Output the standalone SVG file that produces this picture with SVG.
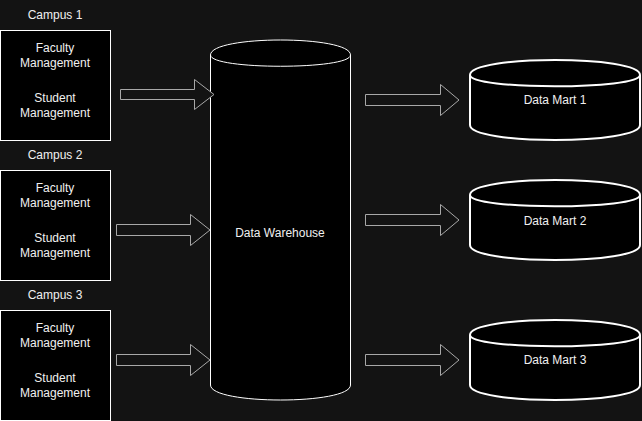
<svg xmlns="http://www.w3.org/2000/svg" width="642" height="421" viewBox="0 0 642 421">
<defs>
<style>
text{font-family:"Liberation Sans",Arial,sans-serif;font-size:12px;fill:#f0f0f0;text-anchor:middle}
.box{fill:#000;stroke:#fff;stroke-width:1}
.dw{fill:#000;stroke:#fff;stroke-width:1}
.dm{fill:#000;stroke:#fff;stroke-width:2}
.inner{fill:none}
.arrow{fill:#131313;stroke:#a8a8a8;stroke-width:1;stroke-linejoin:miter}
</style>
</defs>
<rect width="642" height="421" fill="#131313"/>
<g id="campus1">
<text x="55" y="19">Campus 1</text>
<rect class="box" x="0.5" y="30.5" width="110" height="110"/>
<text x="55" y="51.5">Faculty</text>
<text x="55" y="66.5">Management</text>
<text x="55" y="101.5">Student</text>
<text x="55" y="116.5">Management</text>
</g>
<g id="campus2">
<text x="55" y="159">Campus 2</text>
<rect class="box" x="0.5" y="170.5" width="110" height="110"/>
<text x="55" y="191.5">Faculty</text>
<text x="55" y="206.5">Management</text>
<text x="55" y="241.5">Student</text>
<text x="55" y="256.5">Management</text>
</g>
<g id="campus3">
<text x="55" y="299">Campus 3</text>
<rect class="box" x="0.5" y="310.5" width="110" height="110"/>
<text x="55" y="331.5">Faculty</text>
<text x="55" y="346.5">Management</text>
<text x="55" y="381.5">Student</text>
<text x="55" y="396.5">Management</text>
</g>
<g id="warehouse">
<path class="dw" d="M210.5,55 C210.5,35 350.5,35 350.5,55 L350.5,385 C350.5,405 210.5,405 210.5,385 Z"/>
<path class="dw inner" d="M210.5,55 C210.5,70 350.5,70 350.5,55"/>
<text x="280" y="236.5">Data Warehouse</text>
</g>
<g id="mart1">
<path class="dm" d="M470,75 C470,55 640,55 640,75 L640,125 C640,145 470,145 470,125 Z"/>
<path class="dm inner" d="M470,75 C470,90 640,90 640,75"/>
<text x="555" y="104">Data Mart 1</text>
</g>
<g id="mart2">
<path class="dm" d="M470,195 C470,175 640,175 640,195 L640,245 C640,265 470,265 470,245 Z"/>
<path class="dm inner" d="M470,195 C470,210 640,210 640,195"/>
<text x="555" y="224.5">Data Mart 2</text>
</g>
<g id="mart3">
<path class="dm" d="M470,335 C470,315 640,315 640,335 L640,385 C640,405 470,405 470,385 Z"/>
<path class="dm inner" d="M470,335 C470,350 640,350 640,335"/>
<text x="555" y="364">Data Mart 3</text>
</g>
<g id="connectors">
<polygon class="arrow" points="120.5,89.5 194.5,89.5 194.5,79.5 214,94.5 194.5,109.5 194.5,99.5 120.5,99.5"/>
<polygon class="arrow" points="116.5,224.5 190.5,224.5 190.5,214.5 210,230 190.5,245.5 190.5,235.5 116.5,235.5"/>
<polygon class="arrow" points="116.5,354.5 190.5,354.5 190.5,344.5 210,360 190.5,375.5 190.5,365.5 116.5,365.5"/>
<polygon class="arrow" points="365.5,94.5 440.5,94.5 440.5,84.5 459,100 440.5,115.5 440.5,105.5 365.5,105.5"/>
<polygon class="arrow" points="365.5,214.5 440.5,214.5 440.5,204.5 459,220 440.5,235.5 440.5,225.5 365.5,225.5"/>
<polygon class="arrow" points="365.5,354.5 440.5,354.5 440.5,344.5 459,360 440.5,375.5 440.5,365.5 365.5,365.5"/>
</g>
</svg>
